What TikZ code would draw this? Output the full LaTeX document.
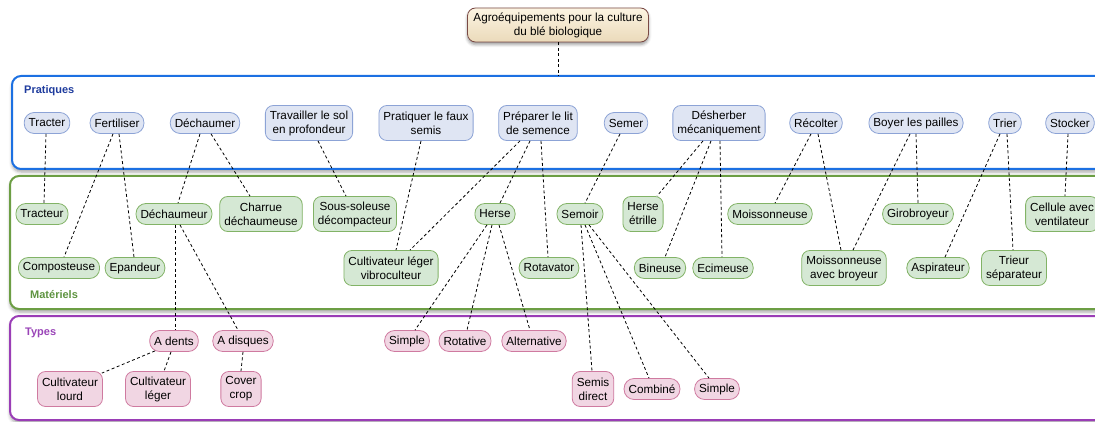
\documentclass[tikz,border=0pt]{standalone}
\usepackage{fontspec}
\setmainfont{Liberation Sans}
\usetikzlibrary{shadows.blur}

\definecolor{pratfill}{HTML}{DFE5F3}
\definecolor{pratline}{HTML}{8CA3D6}
\definecolor{matfill}{HTML}{D5E8D4}
\definecolor{matline}{HTML}{82B366}
\definecolor{typfill}{HTML}{F1D6E3}
\definecolor{typline}{HTML}{CF7AA0}
\definecolor{rootline}{HTML}{7A4A45}
\definecolor{roottop}{HTML}{FCF4E2}
\definecolor{rootbottom}{HTML}{EBDABA}
\definecolor{pratframe}{HTML}{1C70E2}
\definecolor{matframe}{HTML}{6C9E44}
\definecolor{typframe}{HTML}{9A3DB6}
\definecolor{pratlabel}{HTML}{1F3C9E}
\definecolor{matlabel}{HTML}{5E9440}
\definecolor{typlabel}{HTML}{9A44B8}

\begin{document}
\begin{tikzpicture}[x=1pt,y=-1pt,
  font=\fontsize{11.7}{14}\selectfont,
  box/.style={draw, line width=0.8pt, rounded corners=10pt, inner xsep=4.5pt,
    inner ysep=0pt, minimum height=21pt, align=center},
  two/.style={rounded corners=8pt, minimum height=35pt},
  prat/.style={box, fill=pratfill, draw=pratline},
  mat/.style={box, fill=matfill, draw=matline},
  typ/.style={box, fill=typfill, draw=typline},
  root/.style={box, two, top color=roottop, bottom color=rootbottom, draw=rootline,
    minimum width=181pt, minimum height=34pt,
    blur shadow={shadow xshift=0pt, shadow yshift=-2.5pt, shadow blur radius=3pt, shadow opacity=40}},
  link/.style={draw=black, line width=0.8pt, dash pattern=on 3pt off 2.5pt},
  groupframe/.style={line width=2pt, rounded corners=9pt, fill=white,
    blur shadow={shadow xshift=0pt, shadow yshift=-3pt, shadow blur radius=3pt, shadow opacity=35}},
  grouplabel/.style={font=\fontsize{11}{13}\selectfont\bfseries, anchor=west, inner sep=0pt}
]
\path[use as bounding box] (0,0) rectangle (1095,422);
\clip (0,0) rectangle (1095,422);

% group frames
\draw[groupframe, draw=pratframe] (12,76) rectangle (1120,169);
\draw[groupframe, draw=matframe] (10,176) rectangle (1120,309);
\draw[groupframe, draw=typframe] (10,316) rectangle (1120,420);
\node[grouplabel, text=pratlabel] (lblprat) at (24,91) {Pratiques};
\node[grouplabel, text=matlabel] (lblmat) at (30,295) {Matériels};
\node[grouplabel, text=typlabel] (lbltyp) at (25,333) {Types};
\coordinate (pratTop) at (558,76);

% root
\node[root] (root) at (558,25) {Agroéquipements pour la culture\\du blé biologique};

% practices
\node[prat] (tracter) at (47,123) {Tracter};
\node[prat] (fert) at (117,123) {Fertiliser};
\node[prat] (dechaumer) at (205,123) {Déchaumer};
\node[prat, two] (travailler) at (309,123) {Travailler le sol\\en profondeur};
\node[prat, two] (faux) at (426,123) {Pratiquer le faux\\semis};
\node[prat, two] (preparer) at (538,123) {Préparer le lit\\de semence};
\node[prat] (semer) at (626,123) {Semer};
\node[prat, two] (desherber) at (719,123) {Désherber\\mécaniquement};
\node[prat] (recolter) at (816,123) {Récolter};
\node[prat] (boyer) at (916,123) {Boyer les pailles};
\node[prat] (trier) at (1005,123) {Trier};
\node[prat] (stocker) at (1070,123) {Stocker};

% equipment
\node[mat] (tracteur) at (42,214) {Tracteur};
\node[mat] (dechaumeur) at (174,214) {Déchaumeur};
\node[mat, two] (charrue) at (261,214) {Charrue\\déchaumeuse};
\node[mat, two] (soussol) at (355,214) {Sous-soleuse\\décompacteur};
\node[mat] (herse) at (495,214) {Herse};
\node[mat] (semoir) at (580,214) {Semoir};
\node[mat, two] (etrille) at (643,214) {Herse\\étrille};
\node[mat] (moiss) at (770,214) {Moissonneuse};
\node[mat] (giro) at (918,214) {Girobroyeur};
\node[mat, two] (cellule) at (1062,214) {Cellule avec\\ventilateur};
\node[mat] (compo) at (59,268) {Composteuse};
\node[mat] (epand) at (135,268) {Epandeur};
\node[mat, two] (vibro) at (391,268) {Cultivateur léger\\vibroculteur};
\node[mat] (rotav) at (549,268) {Rotavator};
\node[mat] (bineuse) at (660,268) {Bineuse};
\node[mat] (ecim) at (723,268) {Ecimeuse};
\node[mat, two] (moissbr) at (844,268) {Moissonneuse\\avec broyeur};
\node[mat] (aspir) at (938,268) {Aspirateur};
\node[mat, two] (trieur) at (1014,268) {Trieur\\séparateur};

% types
\node[typ] (adents) at (174,341) {A dents};
\node[typ] (adisques) at (243,341) {A disques};
\node[typ, two] (lourd) at (70,389) {Cultivateur\\lourd};
\node[typ, two] (leger) at (158,389) {Cultivateur\\léger};
\node[typ, two] (cover) at (241,389) {Cover\\crop};
\node[typ] (simpleA) at (407,341) {Simple};
\node[typ] (rotative) at (465,341) {Rotative};
\node[typ] (altern) at (534,341) {Alternative};
\node[typ, two] (semis) at (593,389) {Semis\\direct};
\node[typ] (combine) at (652,389) {Combiné};
\node[typ] (simpleB) at (717,389) {Simple};

% connectors
\path[link] (root.south) -- (pratTop);
\path[link] ([xshift=-1pt]tracter.south) -- ([xshift=2pt]tracteur.north);
\path[link] ([xshift=-4pt]fert.south) -- ([xshift=5pt]compo.north);
\path[link] ([xshift=2pt]fert.south) -- ([xshift=-1pt]epand.north);
\path[link] ([xshift=-5pt]dechaumer.south) -- ([xshift=4pt]dechaumeur.north);
\path[link] ([xshift=6pt]dechaumer.south) -- ([xshift=-11pt]charrue.north);
\path[link] ([xshift=9pt]travailler.south) -- ([xshift=-9pt]soussol.north);
\path[link] ([xshift=-5pt]faux.south) -- ([xshift=5pt]vibro.north);
\path[link] ([xshift=-18pt]preparer.south) -- ([xshift=19pt]vibro.north);
\path[link] ([xshift=-8pt]preparer.south) -- ([xshift=5pt]herse.north);
\path[link] ([xshift=3pt]preparer.south) -- ([xshift=-1pt]rotav.north);
\path[link] ([xshift=-6pt]semer.south) -- ([xshift=5pt]semoir.north);
\path[link] ([xshift=-16pt]desherber.south) -- ([xshift=14pt]etrille.north);
\path[link] ([xshift=-8pt]desherber.south) -- ([xshift=5pt]bineuse.north);
\path[link] ([xshift=1pt]desherber.south) -- ([xshift=-1pt]ecim.north);
\path[link] ([xshift=-5pt]recolter.south) -- ([xshift=5pt]moiss.north);
\path[link] ([xshift=2pt]recolter.south) -- ([xshift=-3pt]moissbr.north);
\path[link] ([xshift=-6pt]boyer.south) -- ([xshift=9pt]moissbr.north);
\path[link] (boyer.south) -- (giro.north);
\path[link] ([xshift=-5pt]trier.south) -- ([xshift=7pt]aspir.north);
\path[link] ([xshift=2pt]trier.south) -- ([xshift=-1pt]trieur.north);
\path[link] ([xshift=-2pt]stocker.south) -- ([xshift=3pt]cellule.north);
\path[link] ([xshift=1pt]dechaumeur.south) -- ([xshift=1pt]adents.north);
\path[link] ([xshift=6pt]dechaumeur.south) -- ([xshift=-5pt]adisques.north);
\path[link] ([xshift=-8pt]herse.south) -- ([xshift=8pt]simpleA.north);
\path[link] ([xshift=-3pt]herse.south) -- ([xshift=2pt]rotative.north);
\path[link] ([xshift=4pt]herse.south) -- ([xshift=-4pt]altern.north);
\path[link] ([xshift=1pt]semoir.south) -- ([xshift=-1pt]semis.north);
\path[link] ([xshift=5pt]semoir.south) -- ([xshift=-3pt]combine.north);
\path[link] ([xshift=9pt]semoir.south) -- ([xshift=-8pt]simpleB.north);
\path[link] ([xshift=-19pt,yshift=1pt]adents.south) -- ([xshift=-1pt,yshift=-2pt]lourd.north east);
\path[link] ([xshift=-3pt]adents.south) -- ([xshift=6pt]leger.north);
\path[link] (adisques.south) -- (cover.north);
\end{tikzpicture}
\end{document}
